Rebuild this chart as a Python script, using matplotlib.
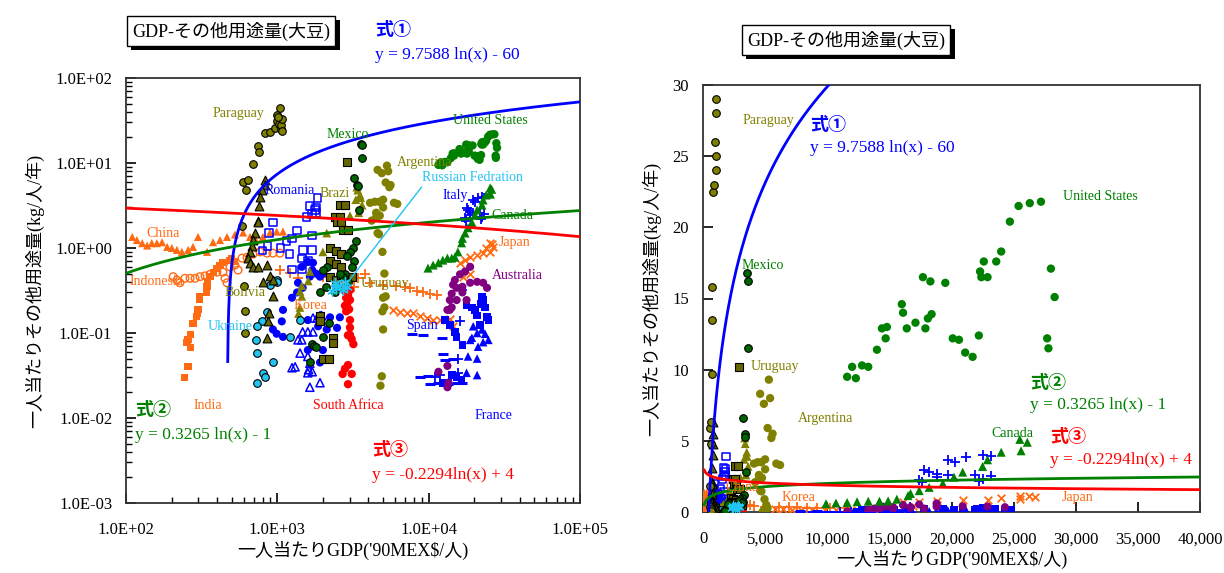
import numpy as np
import matplotlib
matplotlib.use("Agg")
import matplotlib.pyplot as plt
import matplotlib.patheffects as pe
from matplotlib.ticker import FuncFormatter, LogLocator, NullFormatter, MultipleLocator

plt.rcParams['font.family'] = ['Liberation Serif', 'Noto Sans CJK JP']

# 一人当たりGDP ('90MEX$/人), その他用途量 (kg/人/年)
paraguay = [(585, 1.8), (595, 5.9), (620, 4.8), (640, 6.3), (690, 9.7), (745, 15.8), (760, 13.5),
            (830, 22.5), (895, 23.0), (960, 26.0), (990, 37.0), (1000, 31.0), (1020, 29.0),
            (1040, 44.0), (1050, 25.0), (1060, 28.0), (1070, 33.0), (1010, 35.0), (1080, 24.0),
            (600, 0.36), (610, 0.18), (615, 0.10)]
mexico = [(3580, 16.8), (3620, 16.2), (3630, 11.5), (3200, 6.6), (3350, 5.5), (3420, 5.3), (3450, 2.8),
          (3300, 1.2), (3150, 1.0), (3000, 0.9), (2900, 0.8), (3200, 0.7), (3100, 0.6), (2800, 0.5),
          (2700, 0.45), (2950, 0.4), (2600, 0.5), (2500, 0.35), (2400, 0.3), (2200, 0.13), (2000, 0.09),
          (2100, 0.35), (1900, 0.3), (1700, 0.075), (1750, 0.07), (1650, 0.045), (1800, 0.069),
          (2120, 0.6), (2000, 0.55)]
bolivia = [(830, 6.3), (835, 5.5), (790, 4.8), (770, 4.0), (760, 3.1), (740, 2.1), (745, 2.0), (710, 1.5),
           (690, 1.25), (680, 1.05), (660, 0.9), (640, 0.76), (660, 0.67), (690, 0.6), (740, 0.6),
           (860, 0.63), (900, 0.47), (940, 0.42), (810, 0.4), (940, 0.27), (880, 0.17), (870, 0.14),
           (860, 0.088)]
uruguay = [(2880, 10.2), (2600, 3.2), (2810, 3.2), (2420, 2.3), (2600, 2.3), (2480, 2.0), (2650, 2.0),
           (2700, 1.65), (2950, 1.65), (2230, 1.0), (2450, 0.92), (2650, 0.85), (2230, 0.7), (2450, 0.65),
           (2650, 0.6), (2230, 0.45), (2450, 0.42), (2650, 0.48), (3100, 0.46), (1900, 0.16), (1900, 0.14),
           (2350, 0.088), (2350, 0.077), (2000, 0.05), (2200, 0.05)]
brazil = [(3350, 5.2), (3520, 4.2), (3630, 3.2), (3450, 2.6), (3300, 3.7), (3020, 2.4), (2120, 1.5),
          (2000, 0.9), (1640, 0.53), (1600, 0.41), (1450, 0.36), (1410, 0.31), (1450, 0.27), (1410, 0.2),
          (1380, 0.17), (3400, 4.8), (3550, 3.9)]
argentina = [(4600, 8.3), (5300, 9.3), (4900, 7.6), (5200, 5.9), (5500, 5.2), (4100, 3.4), (4400, 3.5),
             (4700, 3.5), (5000, 3.7), (5000, 3.0), (4200, 2.1), (4500, 2.3), (4750, 2.4), (4600, 1.5),
             (4700, 1.45), (4950, 0.9), (5100, 0.5), (5200, 0.27), (5100, 0.2), (5000, 0.26), (4950, 0.18),
             (5000, 0.11), (4900, 0.031), (4800, 0.024), (4500, 2.6), (5600, 5.5), (6200, 3.3),
             (5900, 3.4), (5400, 8.0)]
romania = [(1840, 3.9), (1650, 3.1), (1780, 2.8), (1800, 3.0), (1560, 2.3), (1700, 2.5), (1800, 2.6),
           (940, 2.0), (880, 1.5), (1350, 1.6), (1700, 1.4), (1150, 1.2), (1250, 1.3), (1050, 1.0),
           (800, 0.93), (1480, 0.95), (1700, 0.95), (1460, 0.75), (1600, 0.7), (1250, 0.56),
           (1450, 0.56), (860, 1.05), (1200, 0.85)]
china = [(110, 1.35), (118, 1.24), (128, 1.14), (138, 1.07), (148, 1.14), (160, 1.14), (173, 1.17),
         (187, 1.03), (201, 1.0), (217, 0.95), (234, 0.9), (257, 0.95), (277, 1.03), (299, 1.35),
         (343, 0.9), (376, 1.17), (418, 1.24), (465, 1.35), (525, 1.44), (594, 1.52), (660, 1.35),
         (710, 1.3), (803, 1.35), (895, 1.52), (990, 1.56), (1090, 1.56)]
indonesia = [(205, 0.46), (217, 0.42), (227, 0.39), (245, 0.44), (265, 0.44), (286, 0.44), (308, 0.46),
             (333, 0.47), (359, 0.49), (399, 0.52), (437, 0.52), (451, 0.44), (465, 0.39), (487, 0.6),
             (525, 0.63), (550, 0.55), (584, 0.76), (631, 0.78), (690, 0.85), (768, 0.9), (854, 0.87),
             (935, 0.87), (1040, 0.87)]
india = [(486, 0.72), (437, 0.68), (418, 0.63), (399, 0.58), (376, 0.52), (359, 0.46), (348, 0.40),
         (343, 0.35), (340, 0.30), (308, 0.27), (308, 0.25), (299, 0.19), (295, 0.17), (292, 0.155),
         (277, 0.13), (265, 0.095), (257, 0.083), (253, 0.077), (265, 0.068), (257, 0.04), (245, 0.03),
         (500, 0.75), (520, 0.7)]
ukraine = [(895, 0.37), (990, 0.42), (854, 0.177), (795, 0.137), (735, 0.12), (724, 0.083), (735, 0.058),
           (803, 0.034), (828, 0.03), (735, 0.026), (935, 0.046), (1213, 0.089), (1413, 0.142), (1000, 0.40)]
blue_dots = [(1590, 0.69), (1720, 0.67), (1450, 0.6), (1640, 0.46), (1914, 0.46), (2000, 0.5), (1370, 0.39),
             (1250, 0.26), (1350, 0.30), (1470, 0.34), (1090, 0.187), (1070, 0.137), (935, 0.11),
             (990, 0.098), (1090, 0.09), (1590, 0.142), (1860, 0.12), (2120, 0.11), (2480, 0.115),
             (2590, 0.153), (2230, 0.153), (2000, 0.063), (1914, 0.045), (1590, 0.063), (1700, 0.55),
             (1800, 0.5)]
blue_tri_open = [(1590, 0.103), (1450, 0.083), (1720, 0.103), (1413, 0.058), (1590, 0.053), (1310, 0.04),
                 (1250, 0.039), (1610, 0.037), (1700, 0.035), (1590, 0.034), (1640, 0.023), (1914, 0.026),
                 (1720, 0.15), (1914, 0.16), (1830, 0.15), (1960, 0.16), (1470, 0.103), (1370, 0.083),
                 (1640, 0.044)]
south_africa = [(2700, 0.34), (2800, 0.31), (2930, 0.28), (2850, 0.26), (3020, 0.245), (2890, 0.22),
                (2800, 0.21), (2980, 0.19), (2850, 0.18), (3020, 0.32), (2930, 0.37), (3020, 0.142),
                (3020, 0.116), (3020, 0.095), (3100, 0.085), (3180, 0.074), (2930, 0.094), (2930, 0.042),
                (2800, 0.038), (2700, 0.033), (3100, 0.033), (2930, 0.025)]
russia = [(2450, 0.34), (2590, 0.37), (2700, 0.32), (2300, 0.31), (2900, 0.35), (2800, 0.40), (2400, 0.39)]
korea = [(1042, 0.55), (1213, 0.51), (1370, 0.44), (3400, 0.44), (4100, 0.39), (4960, 0.37), (6100, 0.36),
         (6960, 0.35), (7530, 0.34), (8380, 0.31), (9200, 0.30), (10200, 0.29), (11400, 0.28),
         (3000, 0.35), (3200, 0.35), (3800, 0.5), (2000, 0.45), (2500, 0.4)]
japan = [(25500, 1.15), (24000, 1.0), (22900, 0.87), (20900, 0.83), (18800, 0.78), (17400, 0.72),
         (16100, 0.67), (25500, 0.9), (26700, 1.03), (26200, 1.1), (5800, 0.187), (6470, 0.178),
         (7200, 0.17), (7900, 0.17), (8770, 0.16), (9800, 0.15), (10700, 0.142), (11900, 0.142),
         (13800, 0.146), (14500, 0.12), (18800, 0.5), (16900, 0.45)]
italy = [(19700, 3.67), (21200, 3.87), (22500, 4.0), (17800, 2.95), (18800, 2.65), (17400, 2.25),
         (18800, 2.45), (22500, 2.3), (21900, 2.6), (23200, 3.9), (20300, 3.5), (18200, 2.8),
         (19700, 2.6), (17600, 2.1), (22250, 2.2), (23200, 2.5), (16700, 0.32), (16100, 0.137),
         (15600, 0.05), (15600, 0.034), (11000, 0.03), (11900, 0.032)]
canada = [(25500, 5.1), (24000, 4.2), (22900, 3.67), (22500, 3.2), (20900, 2.8), (20200, 2.45),
          (19300, 2.0), (18200, 1.73), (17400, 1.5), (16700, 1.3), (16500, 1.15), (15600, 0.9),
          (14900, 0.78), (14200, 0.76), (13300, 0.76), (12400, 0.72), (11600, 0.67), (10700, 0.63),
          (9900, 0.58), (26100, 4.9), (25600, 4.3)]
usa = [(11600, 9.5), (12300, 9.4), (12000, 10.2), (12800, 10.3), (13300, 10.2), (14000, 11.4),
       (14400, 12.9), (14700, 12.2), (14800, 13.0), (16000, 14.6), (16100, 14.0), (16400, 12.9),
       (17100, 13.3), (17900, 12.9), (18100, 13.6), (18400, 13.9), (17700, 16.5), (18300, 16.2),
       (19500, 16.1), (20100, 12.2), (20600, 12.1), (22200, 12.4), (21100, 11.2), (21700, 10.9),
       (22300, 16.9), (22400, 16.5), (22900, 16.5), (22600, 17.6), (23600, 17.6), (24000, 18.3),
       (24700, 20.4), (25400, 21.5), (26300, 21.7), (27200, 21.8), (28000, 17.1), (28300, 15.1),
       (27700, 12.2), (27800, 11.5)]
australia = [(18800, 0.6), (17400, 0.53), (16100, 0.49), (14900, 0.42), (14500, 0.37), (15300, 0.34),
             (16700, 0.35), (18800, 0.39), (20900, 0.40), (22900, 0.39), (24300, 0.34), (16700, 0.30),
             (15300, 0.244), (14200, 0.2), (13800, 0.187), (17800, 0.244), (13800, 0.244), (14200, 0.29),
             (13300, 0.187), (11600, 0.035), (13300, 0.041), (13300, 0.023), (13500, 0.026)]
france = [(12800, 0.142), (13800, 0.125), (14900, 0.103), (15300, 0.09), (16700, 0.072), (17800, 0.21),
          (19300, 0.2), (20200, 0.187), (20900, 0.16), (22500, 0.27), (22900, 0.244), (24300, 0.155),
          (24800, 0.142), (21900, 0.125), (12400, 0.026), (13500, 0.026), (15300, 0.03), (16500, 0.028),
          (14200, 0.032), (23500, 0.2), (22000, 0.22)]
blue_tri_fill = [(19700, 0.12), (20900, 0.1), (22500, 0.11), (23600, 0.098), (24800, 0.083), (18800, 0.083),
                 (21200, 0.069), (18200, 0.053), (20900, 0.05), (17800, 0.034), (20900, 0.032),
                 (19300, 0.088), (22900, 0.078)]
spain = [(7800, 0.098), (9200, 0.094), (12200, 0.088), (12400, 0.057), (12800, 0.048), (14500, 0.05),
         (8770, 0.03), (9900, 0.031), (10200, 0.025), (11600, 0.026), (13500, 0.025), (15300, 0.026),
         (16700, 0.026)]

# 式①②③ : y = a ln(x) + b
eq_a = [9.7588, 0.3265, -0.2294]
eq_b = [-60, -1, 4]
eq_text = ["y = 9.7588 ln(x) - 60", "y = 0.3265 ln(x) - 1", "y = -0.2294ln(x) + 4"]
eq_name = ["式①", "式②", "式③"]

OLIVE = '#808000'
DOLIVE = '#666600'
ORANGE = '#FF6A13'
CYAN = '#22C4F2'
GREEN = '#008000'
BLUE = '#0000FF'
RED = '#FF0000'
PURPLE = '#800080'
eq_color = [BLUE, GREEN, RED]

series = [
    (india, dict(marker='s', color=ORANGE, edgecolors='none', s=26)),
    (china, dict(marker='^', color=ORANGE, edgecolors='none', s=34)),
    (indonesia, dict(marker='o', facecolors='none', edgecolors=ORANGE, s=30, linewidths=1)),
    (korea, dict(marker='+', color=ORANGE, s=45, linewidths=1.3)),
    (japan, dict(marker='x', color=ORANGE, s=30, linewidths=1.3)),
    (romania, dict(marker='s', facecolors='none', edgecolors=BLUE, s=30, linewidths=1.1)),
    (blue_dots, dict(marker='o', color=BLUE, edgecolors='none', s=34)),
    (blue_tri_open, dict(marker='^', facecolors='none', edgecolors=BLUE, s=34, linewidths=1.1)),
    (spain, dict(marker='_', color=BLUE, s=45, linewidths=2.2)),
    (france, dict(marker='s', color=BLUE, edgecolors='none', s=30)),
    (blue_tri_fill, dict(marker='^', color=BLUE, edgecolors='none', s=38)),
    (italy, dict(marker='+', color=BLUE, s=55, linewidths=1.3)),
    (australia, dict(marker='o', color=PURPLE, edgecolors='none', s=34)),
    (canada, dict(marker='^', color=GREEN, edgecolors='none', s=42)),
    (usa, dict(marker='o', color=GREEN, edgecolors='none', s=36)),
    (argentina, dict(marker='o', color=OLIVE, edgecolors='none', s=36)),
    (brazil, dict(marker='^', color=OLIVE, edgecolors='none', s=40)),
    (south_africa, dict(marker='o', color=RED, edgecolors='none', s=36)),
    (ukraine, dict(marker='o', color=CYAN, edgecolors='black', s=30, linewidths=0.8)),
    (bolivia, dict(marker='^', color=DOLIVE, edgecolors='black', s=40, linewidths=0.8)),
    (uruguay, dict(marker='s', color=DOLIVE, edgecolors='black', s=32, linewidths=0.8)),
    (mexico, dict(marker='o', color='#006400', edgecolors='black', s=30, linewidths=0.8)),
    (paraguay, dict(marker='o', color=OLIVE, edgecolors='black', s=30, linewidths=0.8)),
    (russia, dict(marker=(6, 2, 0), color=CYAN, s=45, linewidths=1.0)),
]

labels_log = [
    ("Paraguay", 550, 38.7, OLIVE), ("Mexico", 2930, 21.9, GREEN), ("United States", 25500, 31.2, GREEN),
    ("Argentina", 9460, 10.0, OLIVE), ("Italy", 14900, 4.1, BLUE), ("Canada", 35600, 2.44, GREEN),
    ("Japan", 37200, 1.15, ORANGE), ("Australia", 38400, 0.48, PURPLE), ("Romania", 1210, 4.8, BLUE),
    ("Brazi", 2400, 4.4, OLIVE), ("China", 176, 1.5, ORANGE), ("Indonesia", 160, 0.4, ORANGE),
    ("Bolivia", 612, 0.296, OLIVE), ("Ukraine", 486, 0.118, CYAN), ("Korea", 1644, 0.213, ORANGE),
    ("Uruguay", 5150, 0.387, OLIVE), ("Spain", 9040, 0.124, BLUE), ("India", 348, 0.0142, ORANGE),
    ("South Africa", 2930, 0.0142, RED), ("France", 26700, 0.0108, BLUE),
]
labels_lin = [
    ("Paraguay", 5240, 27.5, OLIVE), ("Mexico", 4840, 17.3, GREEN), ("Uruguay", 5800, 10.2, OLIVE),
    ("Argentina", 9830, 6.6, OLIVE), ("United States", 32000, 22.2, GREEN), ("Canada", 24900, 5.55, GREEN),
    ("Japan", 30150, 1.0, ORANGE), ("Korea", 7660, 1.0, ORANGE), ("China", 3150, 1.75, ORANGE),
]

W, H = 1224, 573


def fx(px):
    return px / W


def fy(py):
    return 1 - py / H


def sci_fmt(v, pos):
    return f"{v:.1E}"


def draw_points(ax):
    for pts, style in series:
        x = [p[0] for p in pts]
        y = [p[1] for p in pts]
        ax.scatter(x, y, zorder=3, clip_on=True, **style)


def draw_curves(ax, grid):
    for a, b, c in zip(eq_a, eq_b, eq_color):
        y = a * np.log(grid) + b
        keep = y > 0.045
        ax.plot(grid[keep], y[keep], color=c, lw=2, zorder=4)


def title_box(x, y):
    t = fig.text(x, y, "GDP‐その他用途量(大豆)", fontsize=13, ha='center', va='center',
                 bbox=dict(boxstyle='square,pad=0.3', fc='white', ec='black', lw=1))
    t.get_bbox_patch().set_path_effects([
        pe.SimplePatchShadow(offset=(3, -3), shadow_rgbFace='black', alpha=1.0), pe.Normal()])


fig = plt.figure(figsize=(12.24, 5.73), dpi=100)
ax1 = fig.add_axes([fx(126), fy(503), fx(580) - fx(126), fy(78) - fy(503)])
ax2 = fig.add_axes([fx(703), fy(512), fx(1200) - fx(703), fy(85) - fy(512)])

grid = np.geomspace(100, 1e5, 3000)

# ---- left: log-log
draw_points(ax1)
draw_curves(ax1, grid)
ax1.set_xscale('log')
ax1.set_yscale('log')
ax1.set_xlim(100, 1e5)
ax1.set_ylim(1e-3, 1e2)
for axis in (ax1.xaxis, ax1.yaxis):
    axis.set_major_locator(LogLocator(base=10, numticks=10))
    axis.set_minor_locator(LogLocator(base=10, subs=np.arange(2, 10), numticks=10))
    axis.set_major_formatter(FuncFormatter(sci_fmt))
    axis.set_minor_formatter(NullFormatter())
ax1.tick_params(which='both', direction='in', labelsize=12)
ax1.tick_params(which='major', length=7, width=1.2)
ax1.tick_params(which='minor', length=4, width=1)
ax1.tick_params(axis='x', which='both', pad=14, top=False)
ax1.tick_params(axis='y', which='both', pad=10, right=False)
ax1.set_xlabel("一人当たりGDP('90MEX$/人)", fontsize=13, labelpad=2)
ax1.set_ylabel("一人当たりその他用途量(kg/人/年)", fontsize=13, labelpad=8)
for name, x, y, c in labels_log:
    ax1.text(x, y, name, color=c, fontsize=10, ha='center', va='center', zorder=5)
ax1.annotate("Russian Fedration", xy=(2700, 0.33), xytext=(9000, 6.7), color=CYAN, fontsize=10,
             ha='left', va='center', zorder=5,
             arrowprops=dict(arrowstyle='-', color=CYAN, lw=1, shrinkA=0, shrinkB=0, relpos=(0.02, 0.0)))

# ---- right: linear
draw_points(ax2)
draw_curves(ax2, grid)
ax2.set_xlim(0, 40000)
ax2.set_ylim(0, 30)
ax2.xaxis.set_major_locator(MultipleLocator(5000))
ax2.yaxis.set_major_locator(MultipleLocator(5))
ax2.xaxis.set_major_formatter(FuncFormatter(lambda v, p: f"{int(v):,}"))
ax2.tick_params(direction='in', labelsize=12, length=7, width=1.2)
ax2.tick_params(axis='x', pad=14)
ax2.tick_params(axis='y', pad=10)
ax2.set_xlabel("一人当たりGDP('90MEX$/人)", fontsize=13, labelpad=2)
ax2.set_ylabel("一人当たりその他用途量(kg/人/年)", fontsize=13, labelpad=8)
for name, x, y, c in labels_lin:
    ax2.text(x, y, name, color=c, fontsize=10, ha='center', va='center', zorder=5)

for ax in (ax1, ax2):
    for sp in ax.spines.values():
        sp.set_linewidth(1.3)
        sp.set_color('#333333')

# 式 labels
eq_pos = [[(375, 30, 55), (135, 410, 435), (372, 450, 475)],
          [(810, 125, 148), (1030, 383, 405), (1050, 437, 460)]]
for panel in eq_pos:
    for i, (px, py1, py2) in enumerate(panel):
        fig.text(fx(px), fy(py1), eq_name[i], color=eq_color[i], fontsize=13, ha='left', va='center',
                 fontweight='bold')
        fig.text(fx(px), fy(py2), eq_text[i], color=eq_color[i], fontsize=12.5, ha='left', va='center')

title_box(fx(231), fy(31))
title_box(fx(846), fy(40))

fig.savefig("out.png", dpi=100)
